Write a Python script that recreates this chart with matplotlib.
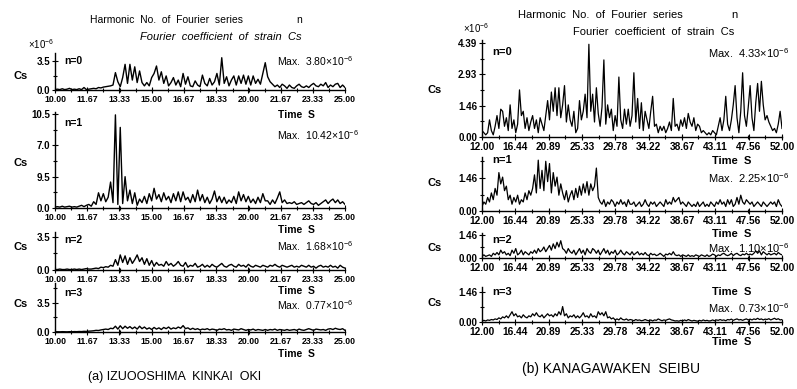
import numpy as np
import matplotlib
matplotlib.use("Agg")
import matplotlib.pyplot as plt
from matplotlib.ticker import AutoMinorLocator, FixedLocator

plt.rcParams['font.family'] = ['Liberation Sans', 'DejaVu Sans']
plt.rcParams['mathtext.fontset'] = 'custom'
plt.rcParams['mathtext.rm'] = 'Liberation Sans'

# ---- data: (a) IZUOOSHIMA KINKAI OKI, 10-25 s, step 0.125 s ----
left_t = (10.0, 25.0)
left_xlabels = ["10.00", "11.67", "13.33", "15.00", "16.67",
                "18.33", "20.00", "21.67", "23.33", "25.00"]

left_n0 = [0.05, 0.1, 0.05, 0.15, 0.05, 0.1, 0.2, 0.05,
           0.1, 0.05, 0.15, 0.05, 0.3, 0.05, 0.1, 0.15,
           0.2, 0.15, 0.3, 0.25, 0.35, 0.4, 0.45, 0.5,
           0.6, 2.1, 1.0, 0.4, 1.5, 3.1, 0.8, 3.1,
           1.2, 2.8, 0.9, 2.3, 0.9, 0.5, 0.9, 0.5,
           1.5, 2.0, 2.9, 1.2, 2.2, 0.8, 1.7, 0.5,
           0.9, 1.5, 0.6, 1.2, 0.4, 2.0, 0.7, 1.6,
           0.5, 0.4, 1.1, 0.6, 0.4, 1.8, 0.8, 0.5,
           1.4, 0.6, 1.0, 2.0, 0.6, 3.9, 0.8, 1.6,
           0.5, 1.2, 1.7, 0.6, 1.7, 0.8, 1.8, 0.7,
           1.7, 0.6, 1.7, 0.8, 1.3, 0.7, 2.0, 3.3,
           1.6, 1.0, 0.7, 0.4, 0.6, 0.3, 0.7, 0.5,
           0.2, 0.6, 0.3, 0.2, 0.5, 0.7, 0.4, 0.3,
           0.5, 0.3, 0.6, 0.8, 0.5, 0.4, 0.7, 0.5,
           0.9, 0.3, 0.6, 0.4, 0.7, 0.8, 0.3, 0.6,
           0.3]

left_n1 = [0.1, 0.15, 0.1, 0.2, 0.1, 0.15, 0.2, 0.1,
           0.15, 0.1, 0.2, 0.3, 0.15, 0.3, 0.4, 0.2,
           0.7, 0.4, 1.7, 0.8, 1.6, 0.7, 1.2, 2.9,
           0.6, 10.4, 0.4, 9.0, 0.5, 3.5, 0.8, 2.0,
           0.5, 1.7, 0.3, 1.0, 0.6, 1.3, 0.5, 1.6,
           0.8, 2.2, 1.0, 1.5, 0.7, 1.7, 0.9, 1.3,
           0.6, 1.6, 0.8, 1.8, 0.7, 1.8, 0.9, 1.2,
           0.6, 1.5, 0.7, 2.0, 0.8, 1.5, 0.6, 1.2,
           0.5, 1.0, 1.9, 0.7, 1.3, 0.6, 1.2, 0.5,
           0.9, 0.6, 1.3, 0.5, 1.8, 0.8, 1.5, 0.7,
           1.3, 0.6, 1.0, 0.5, 1.2, 0.6, 1.6, 0.8,
           0.8, 0.4, 0.9, 0.5, 1.1, 1.8, 0.6, 0.9,
           0.5, 0.6, 0.5, 0.7, 0.4, 0.5, 0.6, 0.4,
           0.6, 0.8, 0.5, 0.4, 0.6, 0.3, 0.5, 0.7,
           0.9, 0.5, 0.8, 1.0, 0.6, 0.9, 0.5, 0.7,
           0.4]

left_n2 = [0.05, 0.05, 0.1, 0.05, 0.05, 0.1, 0.05, 0.05,
           0.1, 0.05, 0.1, 0.05, 0.1, 0.15, 0.1, 0.1,
           0.15, 0.2, 0.15, 0.3, 0.25, 0.35, 0.3, 0.5,
           0.4, 1.1, 0.5, 1.6, 0.8, 1.5, 0.6, 1.3,
           0.7, 1.1, 1.6, 0.9, 1.3, 0.6, 1.2, 0.5,
           1.0, 0.4, 0.8, 0.5, 0.6, 0.4, 0.9, 0.5,
           0.7, 0.4, 0.6, 0.9, 0.5, 0.4, 0.8, 0.3,
           0.5, 0.4, 0.7, 0.3, 0.4, 0.6, 0.3, 0.5,
           0.3, 0.6, 0.4, 0.3, 0.5, 0.7, 0.4, 0.3,
           0.5, 0.6, 0.4, 0.3, 0.6, 0.4, 0.5, 0.3,
           0.6, 0.4, 0.3, 0.5, 0.4, 0.3, 0.5, 0.4,
           0.3, 0.5, 0.4, 0.6, 0.4, 0.3, 0.5, 0.4,
           0.3, 0.4, 0.5, 0.3, 0.4, 0.3, 0.5, 0.4,
           0.3, 0.5, 0.3, 0.4, 0.2, 0.4, 0.5, 0.3,
           0.4, 0.3, 0.5, 0.3, 0.4, 0.2, 0.5, 0.3,
           0.2]

left_n3 = [0.02, 0.03, 0.02, 0.04, 0.03, 0.02, 0.04, 0.03,
           0.05, 0.04, 0.06, 0.05, 0.08, 0.07, 0.1, 0.12,
           0.15, 0.2, 0.18, 0.25, 0.3, 0.35, 0.3, 0.45,
           0.4, 0.7, 0.35, 0.75, 0.4, 0.7, 0.45, 0.65,
           0.4, 0.6, 0.35, 0.7, 0.4, 0.6, 0.35, 0.5,
           0.3, 0.55, 0.35, 0.5, 0.3, 0.55, 0.4, 0.6,
           0.35, 0.5, 0.4, 0.6, 0.45, 0.77, 0.4, 0.5,
           0.3, 0.45, 0.3, 0.4, 0.25, 0.35, 0.3, 0.4,
           0.25, 0.35, 0.3, 0.2, 0.35, 0.3, 0.4, 0.25,
           0.3, 0.2, 0.35, 0.3, 0.25, 0.4, 0.3, 0.2,
           0.3, 0.25, 0.35, 0.2, 0.3, 0.25, 0.2, 0.3,
           0.2, 0.3, 0.25, 0.35, 0.2, 0.3, 0.25, 0.2,
           0.3, 0.2, 0.25, 0.3, 0.2, 0.35, 0.25, 0.2,
           0.3, 0.4, 0.3, 0.2, 0.35, 0.3, 0.25, 0.3,
           0.2, 0.35, 0.4, 0.3, 0.45, 0.35, 0.3, 0.4,
           0.2]

# ---- data: (b) KANAGAWAKEN SEIBU, 12-52 s, step 0.25 s ----
right_t = (12.0, 52.0)
right_xlabels = ["12.00", "16.44", "20.89", "25.33", "29.78",
                 "34.22", "38.67", "43.11", "47.56", "52.00"]

right_n0 = [0.3, 0.2, 0.1, 0.2, 0.8, 0.3, 0.1, 0.5,
            1.0, 0.4, 1.3, 1.2, 0.5, 0.9, 0.3, 1.5,
            0.4, 0.8, 0.2, 0.6, 2.2, 1.0, 1.2, 0.4,
            0.9, 0.3, 0.7, 1.0, 0.4, 0.8, 0.2, 0.9,
            0.6, 0.3, 1.0, 1.7, 0.8, 2.1, 1.2, 2.3,
            1.0, 2.3, 0.9, 1.5, 2.4, 0.7, 1.5, 0.8,
            0.5, 1.2, 0.2, 0.4, 1.7, 0.8, 1.2, 2.0,
            0.9, 4.33, 1.2, 2.0, 0.7, 2.3, 1.1, 0.5,
            1.4, 3.6, 0.6, 1.5, 0.9, 1.3, 0.3, 1.0,
            0.5, 2.8, 0.8, 0.4, 1.3, 0.6, 1.3, 0.5,
            1.0, 3.0, 0.7, 1.8, 0.4, 1.6, 0.3, 1.2,
            0.8, 0.4, 1.2, 1.9, 0.5, 0.6, 0.2, 0.5,
            0.3, 0.5, 0.2, 0.4, 0.7, 0.3, 1.8, 0.5,
            0.6, 0.3, 0.8, 0.5, 0.9, 0.4, 1.1, 0.7,
            0.5, 0.9, 0.3, 0.6, 0.5, 0.2, 0.3, 0.2,
            0.1, 0.2, 0.1, 0.3, 0.2, 0.1, 0.5, 0.9,
            0.3, 0.8, 1.9, 0.6, 0.3, 0.8, 1.5, 2.4,
            0.9, 0.2, 1.2, 3.0, 1.0, 0.5, 1.4, 2.4,
            0.9, 0.3, 1.6, 2.5, 1.2, 2.6, 1.5, 0.8,
            1.0, 0.7, 0.5, 0.3, 0.4, 0.2, 0.6, 1.2,
            0.4]

right_n1 = [0.2, 0.4, 0.3, 0.6, 0.4, 0.8, 0.5, 1.0,
            0.7, 1.7, 1.2, 1.5, 0.9, 1.1, 0.5, 0.7,
            0.3, 0.6, 0.4, 0.7, 0.3, 0.5, 0.4, 0.8,
            0.5, 0.9, 0.7, 1.0, 1.6, 0.8, 2.25, 1.0,
            1.8, 0.9, 2.2, 1.3, 2.1, 0.8, 1.7, 1.1,
            1.5, 0.7, 1.2, 0.8, 0.5, 0.9, 0.4, 0.7,
            0.9, 0.5, 1.0, 0.6, 1.1, 0.7, 1.2, 0.8,
            1.3, 0.7, 1.2, 0.9, 1.1, 1.9, 0.6, 0.4,
            0.3, 0.5, 0.2, 0.4, 0.3, 0.5, 0.4, 0.2,
            0.4, 0.3, 0.5, 0.3, 0.4, 0.2, 0.5, 0.3,
            0.3, 0.4, 0.2, 0.3, 0.4, 0.2, 0.3, 0.5,
            0.3, 0.2, 0.4, 0.3, 0.4, 0.2, 0.3, 0.4,
            0.3, 0.2, 0.5, 0.3, 0.4, 0.3, 0.6, 0.4,
            0.5, 0.6, 0.3, 0.4, 0.3, 0.2, 0.4, 0.3,
            0.2, 0.3, 0.2, 0.4, 0.2, 0.3, 0.4, 0.2,
            0.3, 0.2, 0.4, 0.3, 0.2, 0.4, 0.3, 0.5,
            0.3, 0.4, 0.2, 0.5, 0.3, 0.5, 0.2, 0.3,
            0.6, 0.3, 0.7, 0.4, 0.3, 0.5, 0.4, 0.3,
            0.4, 0.2, 0.3, 0.4, 0.3, 0.2, 0.4, 0.3,
            0.2, 0.3, 0.4, 0.3, 0.4, 0.2, 0.5, 0.3,
            0.2]

right_n2 = [0.1, 0.2, 0.1, 0.15, 0.2, 0.1, 0.3, 0.2,
            0.35, 0.2, 0.5, 0.3, 0.4, 0.2, 0.3, 0.15,
            0.5, 0.3, 0.6, 0.2, 0.3, 0.5, 0.2, 0.4,
            0.3, 0.2, 0.4, 0.3, 0.5, 0.3, 0.6, 0.4,
            0.5, 0.7, 0.4, 0.6, 0.8, 0.5, 0.9, 0.6,
            1.0, 0.7, 1.1, 0.6, 0.5, 0.3, 0.6, 0.4,
            0.3, 0.5, 0.2, 0.4, 0.6, 0.3, 0.5, 0.2,
            0.6, 0.4, 0.3, 0.6, 0.5, 0.3, 0.5, 0.2,
            0.4, 0.6, 0.3, 0.5, 0.2, 0.4, 0.3, 0.5,
            0.2, 0.3, 0.5, 0.3, 0.2, 0.4, 0.3, 0.2,
            0.4, 0.2, 0.3, 0.4, 0.2, 0.3, 0.2, 0.35,
            0.2, 0.15, 0.3, 0.2, 0.25, 0.15, 0.2, 0.3,
            0.2, 0.1, 0.25, 0.2, 0.3, 0.2, 0.4, 0.2,
            0.15, 0.2, 0.1, 0.2, 0.15, 0.1, 0.2, 0.1,
            0.15, 0.1, 0.2, 0.15, 0.1, 0.2, 0.15, 0.1,
            0.2, 0.1, 0.15, 0.25, 0.2, 0.1, 0.2, 0.15,
            0.25, 0.3, 0.2, 0.15, 0.2, 0.3, 0.15, 0.25,
            0.3, 0.2, 0.15, 0.25, 0.2, 0.3, 0.2, 0.25,
            0.2, 0.3, 0.45, 0.3, 0.45, 0.2, 0.4, 0.3,
            0.2, 0.3, 0.2, 0.25, 0.3, 0.2, 0.35, 0.25,
            0.2]

right_n3 = [0.05, 0.08, 0.05, 0.1, 0.08, 0.12, 0.1, 0.15,
            0.12, 0.2, 0.15, 0.25, 0.2, 0.3, 0.2, 0.35,
            0.5, 0.3, 0.4, 0.25, 0.3, 0.2, 0.35, 0.25,
            0.2, 0.3, 0.25, 0.4, 0.3, 0.45, 0.3, 0.25,
            0.35, 0.2, 0.3, 0.4, 0.3, 0.35, 0.25, 0.4,
            0.3, 0.5, 0.35, 0.75, 0.3, 0.4, 0.2, 0.3,
            0.25, 0.35, 0.2, 0.3, 0.2, 0.3, 0.45, 0.25,
            0.3, 0.2, 0.4, 0.25, 0.3, 0.2, 0.5, 0.35,
            0.45, 0.3, 0.5, 0.2, 0.25, 0.15, 0.2, 0.1,
            0.15, 0.1, 0.2, 0.12, 0.1, 0.15, 0.08, 0.12,
            0.1, 0.06, 0.12, 0.08, 0.1, 0.06, 0.08, 0.12,
            0.08, 0.06, 0.1, 0.05, 0.1, 0.08, 0.15, 0.1,
            0.06, 0.1, 0.08, 0.12, 0.15, 0.1, 0.08, 0.05,
            0.06, 0.04, 0.08, 0.05, 0.1, 0.06, 0.12, 0.08,
            0.05, 0.08, 0.06, 0.04, 0.08, 0.05, 0.1, 0.06,
            0.08, 0.05, 0.06, 0.1, 0.06, 0.1, 0.08, 0.12,
            0.08, 0.1, 0.06, 0.12, 0.1, 0.14, 0.08, 0.12,
            0.15, 0.1, 0.12, 0.08, 0.12, 0.15, 0.1, 0.14,
            0.1, 0.15, 0.12, 0.18, 0.12, 0.15, 0.1, 0.14,
            0.12, 0.16, 0.1, 0.14, 0.18, 0.12, 0.16, 0.1,
            0.12]

left_max = ["3.80", "10.42", "1.68", "0.77"]
right_max = ["4.33", "2.25", "1.10", "0.73"]

# ---- figure layout in pixels ----
W, H = 797, 389
fig = plt.figure(figsize=(W / 100, H / 100), dpi=100)
num_font = ['Liberation Sans', 'DejaVu Sans']


def ftext(x, y, s, **kw):
    kw.setdefault('va', 'center')
    fig.text(x / W, 1 - y / H, s, **kw)


def panel(values, trange, xlabels, x0, x1, ybot, ytop, ymax,
          ymajor, ylabels, yminor, xsize, ysize, lw):
    ax = fig.add_axes([x0 / W, 1 - ybot / H, (x1 - x0) / W, (ybot - ytop) / H])
    t = np.linspace(trange[0], trange[1], len(values))
    ax.plot(t, values, color='black', lw=lw)
    ax.set_xlim(trange)
    ax.set_ylim(0, ymax)
    for s in ['top', 'right']:
        ax.spines[s].set_visible(False)
    for s in ['left', 'bottom']:
        ax.spines[s].set_linewidth(1.0)
    ax.set_xticks([float(s) for s in xlabels])
    ax.set_xticklabels(xlabels, fontfamily=num_font, fontweight='bold', fontsize=xsize)
    ax.xaxis.set_minor_locator(AutoMinorLocator(2))
    ax.set_yticks(ymajor)
    ax.set_yticklabels(ylabels, fontfamily=num_font, fontweight='bold', fontsize=ysize)
    ax.yaxis.set_minor_locator(FixedLocator(yminor))
    ax.tick_params(which='both', direction='inout', length=4, width=0.8, pad=1.5)
    ax.tick_params(which='minor', length=3)
    ax.patch.set_visible(False)
    return ax


# left column
panel(left_n0, left_t, left_xlabels, 55, 345, 90, 53, 4.47,
      [0, 3.5], ["0.0", "3.5"], [1.75], 6.3, 7, 1.0)
panel(left_n1, left_t, left_xlabels, 55, 345, 208, 112, 10.72,
      [0, 3.5, 7.0, 10.5], ["0.0", "9.5", "7.0", "10.5"], [1.75, 5.25, 8.75], 6.3, 7, 1.0)
panel(left_n2, left_t, left_xlabels, 55, 345, 270, 232, 4.03,
      [0, 3.5], ["0.0", "3.5"], [1.75], 6.3, 7, 1.0)
panel(left_n3, left_t, left_xlabels, 55, 345, 332, 283, 5.91,
      [0, 3.5], ["0.0", "3.5"], [1.75, 5.25], 6.3, 7, 1.0)

# right column
panel(right_n0, right_t, right_xlabels, 482, 782, 137, 40, 4.53,
      [0, 1.46, 2.93, 4.39], ["0.00", "1.46", "2.93", "4.39"], [0.73, 2.2, 3.66], 7.3, 7, 0.9)
panel(right_n1, right_t, right_xlabels, 482, 782, 211, 157, 2.39,
      [0, 1.46], ["0.00", "1.46"], [0.73, 2.2], 7.3, 7, 0.9)
panel(right_n2, right_t, right_xlabels, 482, 782, 258, 233, 1.59,
      [0, 1.46], ["0.00", "1.46"], [0.73], 7.3, 7, 0.9)
panel(right_n3, right_t, right_xlabels, 482, 782, 322, 287, 1.70,
      [0, 1.46], ["0.00", "1.46"], [0.73], 7.3, 7, 0.9)

# headers
ftext(90, 20, "Harmonic  No.  of  Fourier  series", fontsize=7.5)
ftext(296, 20, "n", fontsize=7.5)
ftext(140, 37, "Fourier  coefficient  of  strain  Cs", style='italic', fontsize=8)
ftext(28, 44, r"$\times$10$^{-6}$", fontsize=7)
ftext(518, 15, "Harmonic  No.  of  Fourier  series", fontsize=8)
ftext(731, 15, "n", fontsize=8)
ftext(573, 32, "Fourier  coefficient  of  strain  Cs", fontsize=8)
ftext(463, 28, r"$\times$10$^{-6}$", fontsize=7)

# left annotations
for i, (ycs, yn, ymax_t, ytime) in enumerate([(76, 61, 61, 115), (163, 123, 135, 230),
                                               (247, 240, 246, 291), (304, 293, 305, 354)]):
    ftext(14, ycs, "Cs", fontsize=8, fontweight='bold')
    ftext(64, yn, "n=%d" % i, fontsize=7.5, fontweight='bold', fontfamily=num_font)
    ftext(277, ymax_t, r"Max.  %s$\times$10$^{-6}$" % left_max[i], fontsize=7.5)
    ftext(278, ytime, "Time  S", fontsize=7.5, fontweight='bold')

# right annotations
for i, (ycs, yn, ymax_t, ytime) in enumerate([(90, 52, 53, 161), (183, 160, 178, 234),
                                               (248, 240, 248, 292), (303, 292, 308, 342)]):
    ftext(428, ycs, "Cs", fontsize=8, fontweight='bold')
    ftext(492, yn, "n=%d" % i, fontsize=8, fontweight='bold', fontfamily=num_font)
    ftext(708, ymax_t, r"Max.  %s$\times$10$^{-6}$" % right_max[i], fontsize=8)
    ftext(712, ytime, "Time  S", fontsize=8, fontweight='bold')

ftext(175, 377, "(a) IZUOOSHIMA  KINKAI  OKI", fontsize=9, ha='center')
ftext(611, 369, "(b) KANAGAWAKEN  SEIBU", fontsize=10, ha='center')

fig.savefig("out.png", dpi=100, facecolor='white')
